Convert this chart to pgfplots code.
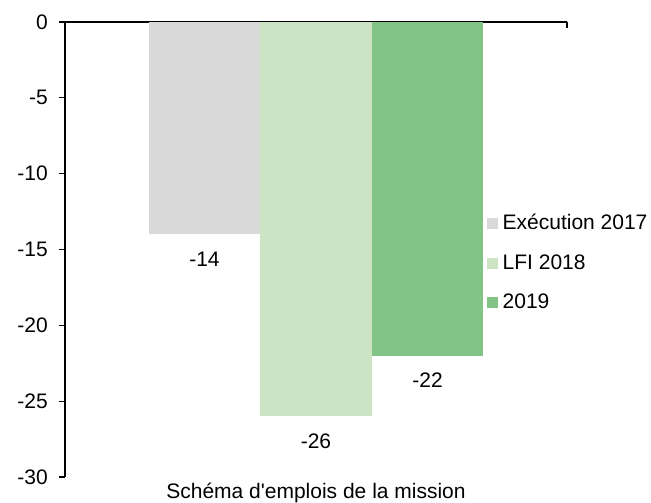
\documentclass[border=0pt]{standalone}
\usepackage{fontspec}
\setmainfont{Liberation Sans}[Ligatures=TeXOff]
\usepackage{pgfplots}
\pgfplotsset{compat=1.18}
\definecolor{cgray}{RGB}{217,217,217}
\definecolor{clight}{RGB}{204,228,196}
\definecolor{cgreen}{RGB}{130,195,134}
\newcommand{\tf}{\fontsize{21bp}{25bp}\selectfont}
\begin{document}
\tf
\begin{tikzpicture}
\useasboundingbox (0,0) rectangle (651bp,503bp);
\begin{axis}[
  at={(65bp,26bp)}, anchor=south west,
  scale only axis, width=502bp, height=455bp,
  xmin=-2.25, xmax=2.25, ymin=-30, ymax=0,
  axis x line*=top, axis y line*=left,
  axis line style={line width=1.2bp, -},
  xtick=\empty,
  ytick={-30,-25,...,0}, yticklabels={-30,-25,-20,-15,-10,-5,0},
  tick align=outside, major tick length=6bp, tick style={line width=1.2bp, black},
  yticklabel style={xshift=-4bp, font=\tf},
  ybar, bar width=1, bar shift=0pt,
  nodes near coords, nodes near coords align={center},
  /pgf/number format/assume math mode=true,
  every node near coord/.append style={anchor=center, yshift=-25bp, font=\tf, black},
  legend style={draw=none, fill=none, at={(rel axis cs:0.8406,0.4704)}, anchor=west, row sep=17.5bp, inner sep=0pt, font=\tf,
    nodes={inner xsep=5bp}},
  legend cell align=left,
  clip=false,
]
\addplot[fill=cgray, draw=none, legend image code/.code={\fill[cgray] (0bp,-5.5bp) rectangle (10.5bp,5.5bp);}] coordinates {(-1,-14)};
\addlegendentry{Exécution 2017}
\addplot[fill=clight, draw=none, legend image code/.code={\fill[clight] (0bp,-5.5bp) rectangle (10.5bp,5.5bp);}] coordinates {(0,-26)};
\addlegendentry{LFI 2018}
\addplot[fill=cgreen, draw=none, legend image code/.code={\fill[cgreen] (0bp,-5.5bp) rectangle (10.5bp,5.5bp);}] coordinates {(1,-22)};
\addlegendentry{2019}
\draw[line width=1.2bp] (axis cs:2.25,0) -- ([yshift=-6bp]axis cs:2.25,0);
\draw[line width=1.2bp] (axis cs:-2.25,0) -- ([yshift=-6bp]axis cs:-2.25,0);
\node at (axis cs:0,-30) [yshift=-16bp] {Schéma d'emplois de la mission};
\end{axis}
\end{tikzpicture}
\end{document}
